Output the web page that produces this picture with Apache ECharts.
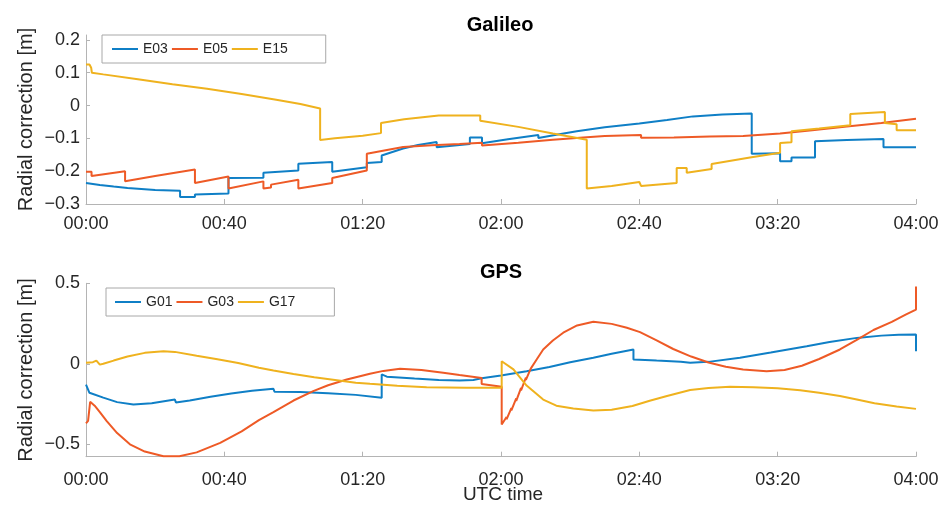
<!DOCTYPE html>
<html>
<head>
<meta charset="utf-8">
<title>Radial correction – Galileo and GPS</title>
<script src="https://cdn.jsdelivr.net/npm/echarts@6/dist/echarts.min.js"></script>
<style>
  html, body { margin: 0; padding: 0; background: #fff; }
  #chart { width: 946px; height: 507px; }
</style>
</head>
<body>
<div id="chart"></div>
<script>
// Radial orbit corrections [m] over four hours of UTC time.
// Each series is a list of [minutes since 00:00, correction]; repeated
// times mark the jumps between correction updates.

const galileoNames = ['E03', 'E05', 'E15'];
const gpsNames = ['G01', 'G03', 'G17'];

const e03 = [[0,-0.236],[4,-0.242],[8,-0.247],[12,-0.251],[16,-0.254],[20,-0.257],[27.2,-0.26],[27.2,-0.279],
  [31.5,-0.279],[31.5,-0.271],[41.2,-0.268],[41.2,-0.221],[51.3,-0.22],[51.3,-0.205],[61.4,-0.198],[61.4,-0.177],
  [71.2,-0.172],[71.2,-0.202],[81.2,-0.188],[81.2,-0.175],[85.5,-0.172],[85.5,-0.152],[91.7,-0.131],[96,-0.12],
  [101.4,-0.111],[101.4,-0.127],[111,-0.117],[111,-0.097],[114.5,-0.097],[114.5,-0.115],[122,-0.103],[130.8,-0.09],
  [130.8,-0.099],[136,-0.089],[141.9,-0.078],[150,-0.066],[160,-0.055],[168,-0.044],[175.5,-0.033],[184,-0.027],
  [192.5,-0.024],[192.5,-0.147],[200.7,-0.145],[200.7,-0.17],[204,-0.17],[204,-0.158],[210.8,-0.158],[210.8,-0.109],
  [220,-0.105],[230.6,-0.102],[230.6,-0.127],[240,-0.127]];

const e05 = [[0,-0.202],[1.6,-0.202],[1.6,-0.215],[11.3,-0.2],[11.3,-0.231],[20,-0.215],[31.5,-0.195],[31.5,-0.236],
  [41.2,-0.216],[41.2,-0.253],[51.3,-0.231],[51.3,-0.253],[53.5,-0.25],[53.5,-0.241],[61.4,-0.226],[61.4,-0.253],
  [71.2,-0.236],[71.2,-0.221],[81.2,-0.198],[81.2,-0.147],[91.7,-0.126],[100,-0.121],[108,-0.117],[114.5,-0.113],
  [114.5,-0.122],[125,-0.113],[135,-0.104],[143.8,-0.097],[150,-0.093],[160.5,-0.09],[160.5,-0.098],[170,-0.097],
  [180.4,-0.094],[180.4,-0.099],[190,-0.093],[200.7,-0.085],[210,-0.075],[220,-0.064],[230,-0.053],[240,-0.04]];

const e15 = [[0,0.125],[1,0.125],[1.5,0.115],[1.7,0.1],[5,0.095],[15,0.08],[25,0.065],[35,0.051],[45,0.035],
  [55,0.018],[62,0.005],[67.7,-0.009],[67.7,-0.105],[72,-0.1],[80,-0.092],[85.3,-0.084],[85.3,-0.053],[92,-0.042],
  [102,-0.03],[114,-0.03],[114,-0.046],[125,-0.065],[135,-0.085],[144.8,-0.104],[144.8,-0.253],[152,-0.245],
  [160,-0.233],[160.5,-0.245],[170.8,-0.236],[170.8,-0.19],[173.7,-0.19],[173.7,-0.205],[180.9,-0.193],[180.9,-0.178],
  [192,-0.158],[200.7,-0.144],[200.7,-0.114],[204,-0.112],[204,-0.078],[212,-0.07],[221,-0.06],[221,-0.026],
  [231,-0.02],[231,-0.053],[234.4,-0.057],[234.4,-0.075],[240,-0.075]];

const g01 = [[0,-0.129],[0.5,-0.14],[1,-0.18],[5,-0.21],[9,-0.238],[13.7,-0.253],[19,-0.245],[25.7,-0.222],
  [26,-0.24],[30,-0.228],[36,-0.205],[42,-0.185],[48,-0.168],[54.2,-0.155],[54.5,-0.173],[62,-0.175],[70,-0.183],
  [78,-0.193],[85.5,-0.211],[85.5,-0.066],[87,-0.08],[95,-0.092],[102,-0.1],[108,-0.104],[112,-0.1],[114.4,-0.09],
  [120,-0.073],[127.4,-0.046],[134,-0.02],[140,0.01],[146.7,0.037],[152,0.063],[158.3,0.089],[158.3,0.027],
  [165,0.02],[172,0.013],[174.7,0.006],[180,0.012],[189.1,0.037],[198,0.07],[208.4,0.109],[215,0.135],
  [222.9,0.161],[230,0.175],[235,0.18],[240,0.182],[240,0.078]];

const g03 = [[0,-0.37],[0.6,-0.355],[1.2,-0.236],[2.5,-0.26],[4,-0.3],[6,-0.356],[9,-0.43],[12.7,-0.5],[17,-0.545],
  [22.4,-0.574],[27,-0.574],[32,-0.55],[38.8,-0.491],[45,-0.42],[50,-0.35],[54.2,-0.3],[54.4,-0.29],[60,-0.228],
  [65.7,-0.17],[70,-0.133],[75.4,-0.098],[79.2,-0.077],[82.1,-0.062],[86,-0.044],[90.8,-0.031],[97,-0.038],
  [103.3,-0.056],[108,-0.07],[114.4,-0.088],[114.4,-0.126],[120.2,-0.143],[120.2,-0.377],[121.6,-0.33],[121.6,-0.345],
  [123,-0.275],[123,-0.29],[124.4,-0.215],[124.4,-0.23],[125.8,-0.15],[125.8,-0.165],[127.2,-0.085],[127.2,-0.1],
  [128.6,-0.03],[130.4,0.03],[132.2,0.089],[135,0.145],[138,0.193],[142,0.238],[146.7,0.261],[152,0.248],
  [156.4,0.224],[160.2,0.197],[165,0.145],[169.8,0.092],[175,0.045],[180,0.008],[185,-0.018],[190,-0.036],
  [196.8,-0.046],[202,-0.038],[207,-0.012],[212,0.03],[218,0.089],[223,0.15],[227.7,0.21],[233,0.26],
  [237,0.305],[240,0.337],[240,0.48]];

const g17 = [[0,0.006],[2,0.01],[3,0.02],[4,-0.005],[5,0],[8,0.02],[12,0.045],[17,0.068],[22.4,0.078],[25.7,0.074],
  [26,0.064],[32,0.05],[38,0.028],[44,0.005],[50,-0.025],[54.2,-0.042],[54.5,-0.048],[60,-0.063],[66,-0.083],
  [72,-0.1],[78,-0.117],[82.1,-0.124],[90,-0.136],[98.5,-0.145],[110,-0.148],[120.2,-0.149],[120.2,0.016],
  [123.6,-0.035],[127.4,-0.135],[132.2,-0.222],[136,-0.26],[140.9,-0.278],[146.7,-0.29],[152,-0.285],[158,-0.262],
  [163,-0.23],[168,-0.2],[174.7,-0.163],[180,-0.15],[186.2,-0.143],[193,-0.145],[200,-0.152],[206.5,-0.164],
  [212,-0.18],[218,-0.2],[222.9,-0.222],[228,-0.245],[234.4,-0.265],[234.6,-0.272],[240,-0.28]];

const galileoTicks = [-0.3, -0.2, -0.1, 0, 0.1, 0.2];
const gpsTicks = [-0.5, 0, 0.5];
const timeStart = 0, timeEnd = 240, timeStep = 40;   // minutes

const FONT = '"Liberation Sans", Arial, Helvetica, sans-serif';
const INK = '#262626';
const AXIS = '#b4b4b4';
const COLORS = ['#0f7fc6', '#ee5a26', '#efb21e'];

const clock = m => {
  const h = Math.floor(m / 60), mm = Math.round(m % 60);
  return String(h).padStart(2, '0') + ':' + String(mm).padStart(2, '0');
};
const num = v => (Math.abs(v) < 1e-9 ? '0' : String(+v.toFixed(2)).replace('-', '\u2212'));

function xAxisFor(gridIndex, labelMargin) {
  return {
    type: 'value', gridIndex, min: timeStart, max: timeEnd, interval: timeStep,
    axisLine: { show: true, onZero: false, lineStyle: { color: AXIS, width: 1 } },
    axisTick: { show: true, inside: true, length: 5, lineStyle: { color: AXIS } },
    axisLabel: { formatter: clock, fontSize: 18, color: INK, fontFamily: FONT, margin: labelMargin },
    splitLine: { show: false }
  };
}

function yAxisFor(gridIndex, min, max, ticks) {
  return {
    type: 'value', gridIndex, min, max,
    name: 'Radial correction [m]', nameLocation: 'middle', nameRotate: 90, nameGap: 50,
    nameMoveOverlap: false,
    nameTextStyle: { fontSize: 20, color: INK, fontFamily: FONT },
    axisLine: { show: true, onZero: false, lineStyle: { color: AXIS, width: 1 } },
    axisTick: { show: true, inside: true, length: 4, customValues: ticks, lineStyle: { color: AXIS } },
    axisLabel: { customValues: ticks, formatter: num, fontSize: 18, color: INK, fontFamily: FONT, margin: 6 },
    splitLine: { show: false }
  };
}

function lineSeries(name, data, idx, axis) {
  return {
    name, type: 'line', data, xAxisIndex: axis, yAxisIndex: axis,
    symbol: 'none', smooth: false, animation: false,
    lineStyle: { color: COLORS[idx], width: 2 }, itemStyle: { color: COLORS[idx] }
  };
}

function legendFor(names, left, top, padRight, padLeft) {
  return {
    data: names.map(n => ({ name: n, icon: 'rect' })), left, top, orient: 'horizontal',
    itemWidth: 26, itemHeight: 2, itemGap: 4,
    padding: [7, padRight, 7, padLeft],
    borderColor: '#a8a8a8', borderWidth: 1, backgroundColor: '#fff',
    textStyle: { fontSize: 14, color: INK, fontFamily: FONT },
    selectedMode: false
  };
}

const chart = echarts.init(document.getElementById('chart'), null, { renderer: 'canvas' });
chart.setOption({
  backgroundColor: '#fff',
  animation: false,
  grid: [
    { left: 86, right: 30, top: 35, height: 169 },
    { left: 86, right: 30, top: 283.3, height: 173.4 }
  ],
  xAxis: [xAxisFor(0, 11), xAxisFor(1, 14)],
  yAxis: [yAxisFor(0, -0.3, 0.215, galileoTicks), yAxisFor(1, -0.577, 0.5, gpsTicks)],
  legend: [legendFor(galileoNames, 102, 35, 38, 10), legendFor(gpsNames, 106, 288, 39, 9)],
  graphic: [
    { type: 'text', x: 500, y: 25, style: { text: 'Galileo', font: 'bold 20px ' + FONT, fill: '#000', textAlign: 'center', textVerticalAlign: 'middle' } },
    { type: 'text', x: 501, y: 272, style: { text: 'GPS', font: 'bold 20px ' + FONT, fill: '#000', textAlign: 'center', textVerticalAlign: 'middle' } },
    { type: 'text', x: 503, y: 495, style: { text: 'UTC time', font: '19px ' + FONT, fill: INK, textAlign: 'center', textVerticalAlign: 'middle' } }
  ],
  series: [
    lineSeries('E03', e03, 0, 0), lineSeries('E05', e05, 1, 0), lineSeries('E15', e15, 2, 0),
    lineSeries('G01', g01, 0, 1), lineSeries('G03', g03, 1, 1), lineSeries('G17', g17, 2, 1)
  ]
});
</script>
</body>
</html>
